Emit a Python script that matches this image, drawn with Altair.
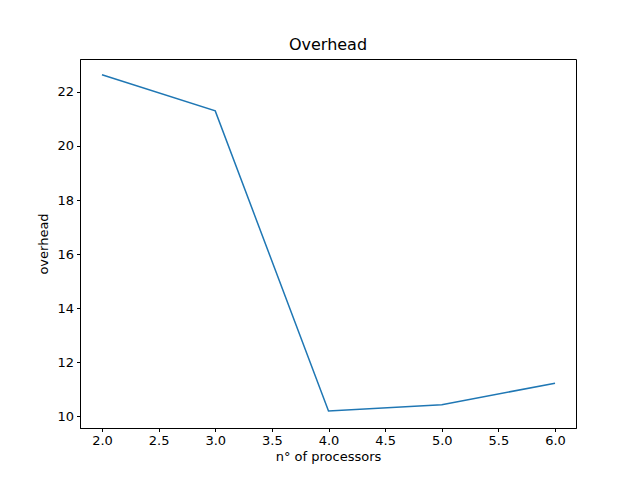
import pandas as pd
import altair as alt

processors = [2, 3, 4, 5, 6]
overhead = [22.64, 21.30, 10.19, 10.42, 11.22]

df = pd.DataFrame({"processors": processors, "overhead": overhead})

font = "DejaVu Sans"

chart = alt.Chart(df).mark_line(color="#1f77b4", strokeWidth=1.5, clip=True).encode(
    x=alt.X("processors:Q", title="n° of processors",
            scale=alt.Scale(domain=[1.806, 6.185], nice=False, zero=False),
            axis=alt.Axis(values=[2.0, 2.5, 3.0, 3.5, 4.0, 4.5, 5.0, 5.5, 6.0], format=".1f")),
    y=alt.Y("overhead:Q", title="overhead",
            scale=alt.Scale(domain=[9.56, 23.22], nice=False, zero=False),
            axis=alt.Axis(values=[10, 12, 14, 16, 18, 20, 22])),
).properties(
    width=496, height=369,
    title=alt.TitleParams("Overhead", font=font, fontSize=16, fontWeight="normal", offset=6),
    autosize=alt.AutoSizeParams(type="none"),
    padding={"left": 72, "top": 51, "right": 56, "bottom": 44},
).configure_axis(
    grid=False, domainColor="black", tickColor="black", labelColor="black",
    titleColor="black", labelFont=font, titleFont=font, labelFontSize=13,
    titleFontSize=13, titleFontWeight="normal", tickSize=3.5, labelPadding=3,
).configure_axisY(titlePadding=6).configure_axisX(titlePadding=3).configure_view(
    stroke="black", strokeWidth=1
)

chart.save("out.html", embed_options={"renderer": "svg", "actions": False})
